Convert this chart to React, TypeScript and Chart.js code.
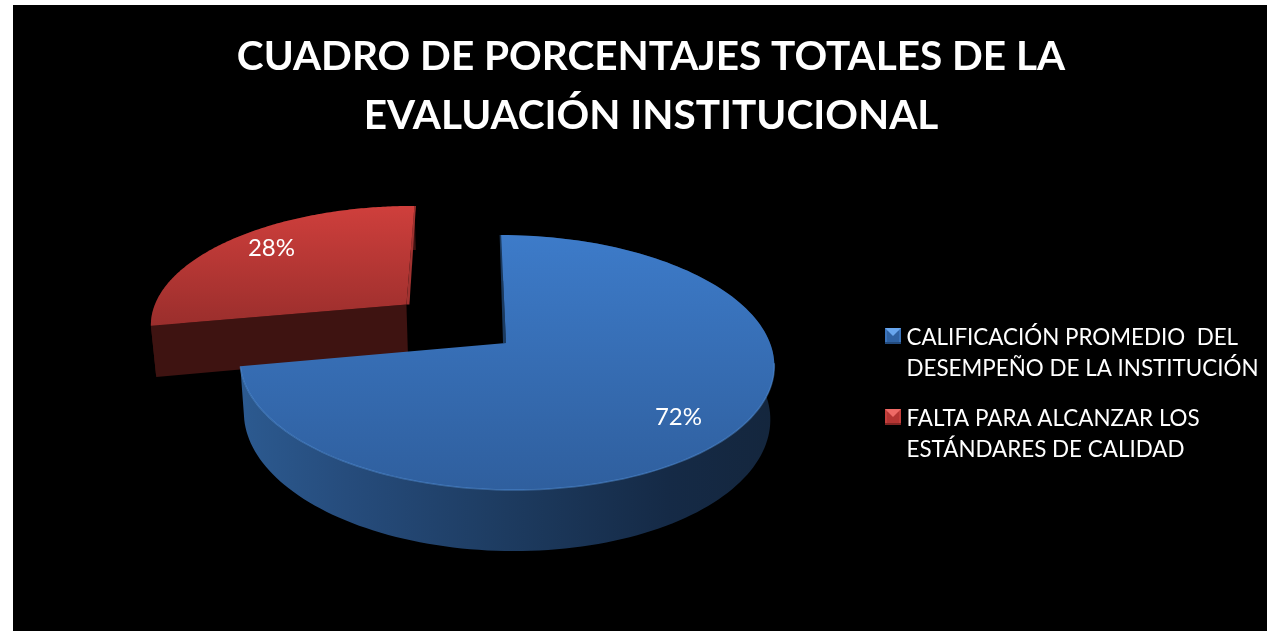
import React, { useEffect, useRef } from "react";
import { Chart, registerables } from "chart.js";

Chart.register(...registerables);

const titleLines = ["CUADRO DE PORCENTAJES TOTALES DE LA", "EVALUACIÓN INSTITUCIONAL"];
const categories = [
  ["CALIFICACIÓN PROMEDIO  DEL", "DESEMPEÑO DE LA INSTITUCIÓN"],
  ["FALTA PARA ALCANZAR LOS", "ESTÁNDARES DE CALIDAD"],
];
const values = [72, 28];
const sliceOffsets = [0, 96];
const sliceColors = ["#3a72b8", "#b83735"];

const FONT = "Lato, Carlito, sans-serif";
const PAGE_X = 13;
const PAGE_Y = 5;

// Perspective applied to the library's arc geometry (page pixels).
const CX = 506;
const CY = 343;
const RX = 264;
const RY = 124.5;
const K = 0.153;
const SHEAR_X = 7;
const SHEAR_Y = 0;

type Pt = { x: number; y: number };
const project = (u: number, v: number): Pt => {
  const w = 1 - K * v;
  return { x: CX + (RX * u + SHEAR_X * v) / w, y: CY + (RY * v + SHEAR_Y * u) / w };
};
const lower = (p: Pt): Pt => ({
  x: 507 + (p.x - 507) * 0.985,
  y: p.y + 50 + (p.y - 305) * 0.06,
});

const path = (ctx: CanvasRenderingContext2D, pts: Pt[]) => {
  ctx.beginPath();
  pts.forEach((p, i) => (i ? ctx.lineTo(p.x, p.y) : ctx.moveTo(p.x, p.y)));
  ctx.closePath();
};

const styles = [
  {
    top: ["#3d7bc9", "#2f5f9e"],
    topRange: [235, 490],
    wall: [[0, "#2c5a90"], [0.2, "#264c7c"], [0.5, "#1d3b60"], [0.8, "#152a46"], [1, "#14263d"]],
    rim: "rgba(92,155,230,0.45)",
    side: "#1b3a5f",
    front: null,
    strip: { start: true },
  },
  {
    top: ["#cf3f3c", "#9a2e2c"],
    topRange: [205, 327],
    wall: [[0, "#3d1211"], [1, "#3d1211"]],
    rim: null,
    side: "#a03230",
    front: "#3e1311",
    strip: { start: false },
  },
];

const pie3d = {
  id: "pie3d",
  beforeDatasetDraw(chart: any) {
    const ctx: CanvasRenderingContext2D = chart.ctx;
    const arcs = chart.getDatasetMeta(0).data;
    ctx.save();
    ctx.translate(-PAGE_X, -PAGE_Y);
    const order = [1, 0];
    order.forEach((i) => {
      const el = arcs[i];
      const s = styles[i];
      const { startAngle, endAngle, outerRadius } = el.getProps(["startAngle", "endAngle", "outerRadius"], true);
      const mid = (startAngle + endAngle) / 2;
      const d = (el.options.offset || 0) / outerRadius;
      const ox = d * Math.cos(mid);
      const oy = d * Math.sin(mid);
      const apex = project(ox, oy);
      const rim: Pt[] = [];
      const front: Pt[] = [];
      const N = 160;
      for (let n = 0; n <= N; n++) {
        const a = startAngle + ((endAngle - startAngle) * n) / N;
        const p = project(ox + Math.cos(a), oy + Math.sin(a));
        rim.push(p);
        if (Math.sin(a) > 0.15) front.push(p);
      }

      // outer wall
      const xs = rim.map((p) => p.x);
      const wallGrad = ctx.createLinearGradient(Math.min(...xs), 0, Math.max(...xs), 0);
      s.wall.forEach(([o, c]: any) => wallGrad.addColorStop(o, c));
      ctx.fillStyle = wallGrad;
      path(ctx, [...rim, ...rim.map(lower).reverse()]);
      ctx.fill();

      // straight faces
      if (s.front) {
        const left = rim[0];
        path(ctx, [apex, left, lower(left), lower(apex)]);
        ctx.fillStyle = s.front;
        ctx.fill();
      }
      const edge = s.strip.start ? rim[0] : rim[N];
      const dir = s.strip.start ? -1 : 1;
      path(ctx, [edge, apex, { x: apex.x + dir * 3, y: apex.y }, { x: edge.x + dir * 1.5, y: edge.y }]);
      ctx.fillStyle = s.side;
      ctx.fill();

      // top surface
      const topGrad = ctx.createLinearGradient(0, s.topRange[0], 0, s.topRange[1]);
      topGrad.addColorStop(0, s.top[0]);
      topGrad.addColorStop(1, s.top[1]);
      path(ctx, [apex, ...rim]);
      ctx.fillStyle = topGrad;
      ctx.fill();

      if (s.rim) {
        ctx.beginPath();
        front.forEach((p, n) => (n ? ctx.lineTo(p.x, p.y) : ctx.moveTo(p.x, p.y)));
        ctx.strokeStyle = s.rim;
        ctx.lineWidth = 1.5;
        ctx.stroke();
      }
    });

    // percentage labels
    const total = values.reduce((a, b) => a + b, 0);
    ctx.fillStyle = "#ffffff";
    ctx.font = `24px ${FONT}`;
    ctx.textAlign = "center";
    ctx.textBaseline = "middle";
    arcs.forEach((el: any, i: number) => {
      const { startAngle, endAngle, outerRadius } = el.getProps(["startAngle", "endAngle", "outerRadius"], true);
      const mid = (startAngle + endAngle) / 2;
      const r = 0.77 + (el.options.offset || 0) / outerRadius;
      const p = project(r * Math.cos(mid), r * Math.sin(mid));
      ctx.fillText(`${Math.round((values[i] / total) * 100)}%`, p.x, p.y + (i === 0 ? 8 : -4));
    });
    ctx.restore();
    return false;
  },
  afterDraw(chart: any) {
    const ctx: CanvasRenderingContext2D = chart.ctx;
    ctx.save();
    ctx.translate(-PAGE_X, -PAGE_Y);
    const tops = [328, 409];
    const palette = [
      { body: "#2f62a3", light: "#68a6ee", dark: "#234b7e", side: "#3a73bb" },
      { body: "#b53533", light: "#ee6a66", dark: "#822523", side: "#c43f3c" },
    ];
    categories.forEach((lines, i) => {
      const x = 885;
      const y = tops[i];
      const size = 16;
      const c = palette[i];
      ctx.fillStyle = c.side;
      ctx.fillRect(x, y, size, size);
      ctx.fillStyle = c.body;
      ctx.fillRect(x + 2, y + 3, size - 4, size - 5);
      path(ctx, [{ x, y }, { x: x + size, y }, { x: x + size / 2, y: y + size / 2 }]);
      ctx.fillStyle = c.light;
      ctx.fill();
      ctx.fillStyle = c.dark;
      ctx.fillRect(x, y + size - 2, size, 2);
      ctx.fillStyle = "#ffffff";
      ctx.font = `22.4px ${FONT}`;
      ctx.textAlign = "left";
      ctx.textBaseline = "alphabetic";
      lines.forEach((t, n) => ctx.fillText(t, 906.5, y + 17 + n * 31));
    });
    ctx.restore();
  },
};

export default function App() {
  const ref = useRef<HTMLCanvasElement | null>(null);
  useEffect(() => {
    document.body.style.margin = "0";
    document.body.style.background = "#ffffff";
    const chart = new Chart(ref.current as HTMLCanvasElement, {
      type: "pie",
      data: {
        labels: categories.map((c) => c.join(" ")),
        datasets: [{ data: values, backgroundColor: sliceColors, borderWidth: 0, offset: sliceOffsets }],
      },
      options: {
        responsive: false,
        animation: false,
        rotation: 0.3,
        layout: { padding: { left: 22, right: 0, top: 0, bottom: 0 } },
        plugins: {
          legend: { display: false },
          tooltip: { enabled: false },
          title: {
            display: true,
            text: titleLines,
            color: "#ffffff",
            font: { family: FONT, size: 40.5, weight: "bold", lineHeight: 1.44 },
            padding: { top: 23, bottom: 10 },
          },
        },
      },
      plugins: [pie3d],
    } as any);
    return () => chart.destroy();
  }, []);
  return (
    <div style={{ position: "fixed", inset: 0, overflow: "hidden", background: "#fff" }}>
      <canvas
        ref={ref}
        width={1254}
        height={626}
        style={{ position: "absolute", left: PAGE_X, top: PAGE_Y, width: 1254, height: 626, background: "#000" }}
      />
    </div>
  );
}
